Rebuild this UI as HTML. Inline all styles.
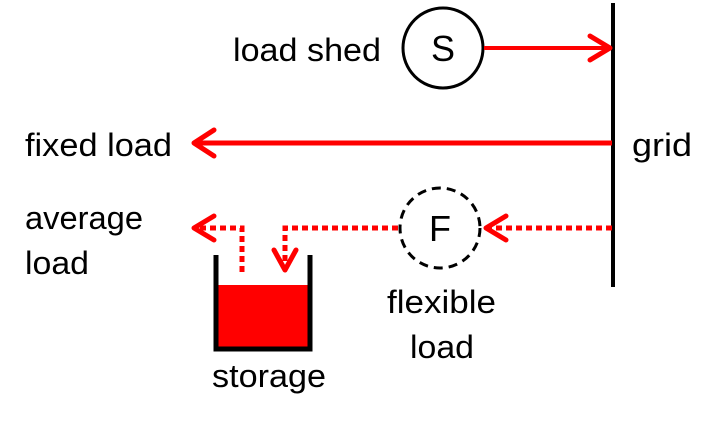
<!DOCTYPE html>
<html><head><style>html,body{margin:0;padding:0;background:#fff}svg{display:block}</style></head>
<body>
<svg width="715" height="424" viewBox="0 0 715 424" xmlns="http://www.w3.org/2000/svg" font-family="Liberation Sans, sans-serif" font-size="32" fill="#000">
<line x1="613" y1="3" x2="613" y2="287" stroke="#000" stroke-width="4"/>
<circle cx="443" cy="48" r="40" fill="none" stroke="#000" stroke-width="3"/>
<text x="443" y="61" text-anchor="middle" font-size="36">S</text>
<line x1="484" y1="48" x2="610" y2="48" stroke="#f00" stroke-width="4"/>
<polyline points="590,36 610,48 590,60" fill="none" stroke="#f00" stroke-width="5" stroke-linecap="round" stroke-linejoin="round"/>
<line x1="612" y1="143" x2="194" y2="143" stroke="#f00" stroke-width="5"/>
<polyline points="214,130 194,143 214,156" fill="none" stroke="#f00" stroke-width="5" stroke-linecap="round" stroke-linejoin="round"/>
<circle cx="440" cy="228" r="40" fill="none" stroke="#000" stroke-width="3" stroke-dasharray="9,6"/>
<text x="440" y="241" text-anchor="middle" font-size="36">F</text>
<line x1="612" y1="228" x2="486" y2="228" stroke="#f00" stroke-width="5" stroke-dasharray="6,4"/>
<polyline points="506,216 486,228 506,240" fill="none" stroke="#f00" stroke-width="5" stroke-linecap="round" stroke-linejoin="round"/>
<polyline points="398,228 285,228 285,262" fill="none" stroke="#f00" stroke-width="5" stroke-dasharray="6,4"/>
<polyline points="274,250 285,270 296,250" fill="none" stroke="#f00" stroke-width="5" stroke-linecap="round" stroke-linejoin="round"/>
<polyline points="242,272 242,228 196,228" fill="none" stroke="#f00" stroke-width="5" stroke-dasharray="6,4"/>
<polyline points="214,216 194,228 214,240" fill="none" stroke="#f00" stroke-width="5" stroke-linecap="round" stroke-linejoin="round"/>
<rect x="216" y="285" width="92" height="63" fill="#f00"/>
<polyline points="216,255 216,349 310,349 310,255" fill="none" stroke="#000" stroke-width="5"/>
<text x="233" y="61" textLength="148" lengthAdjust="spacingAndGlyphs">load shed</text>
<text x="25" y="156" textLength="147" lengthAdjust="spacingAndGlyphs">fixed load</text>
<text x="632" y="156" textLength="60" lengthAdjust="spacingAndGlyphs">grid</text>
<text x="25" y="229" textLength="118" lengthAdjust="spacingAndGlyphs">average</text>
<text x="25" y="274" textLength="64" lengthAdjust="spacingAndGlyphs">load</text>
<text x="387" y="313" textLength="109" lengthAdjust="spacingAndGlyphs">flexible</text>
<text x="410" y="358" textLength="64" lengthAdjust="spacingAndGlyphs">load</text>
<text x="212" y="387" textLength="114" lengthAdjust="spacingAndGlyphs">storage</text>
</svg>
</body></html>
